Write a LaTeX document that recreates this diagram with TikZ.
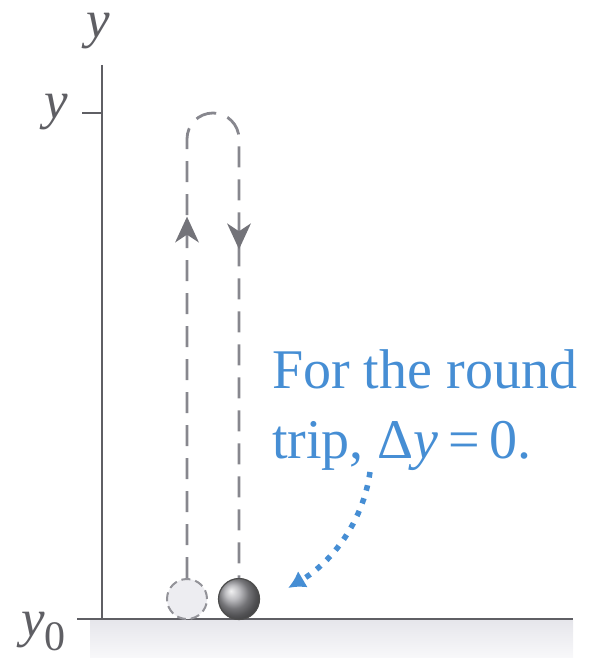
\documentclass[tikz,border=0pt]{standalone}
\usepackage{fontspec}
\setmainfont{Liberation Serif}
\usetikzlibrary{arrows.meta,decorations.markings,shadings,calc}
\definecolor{axisgray}{RGB}{95,95,100}
\definecolor{pathgray}{RGB}{135,135,142}
\definecolor{noteblue}{RGB}{70,142,212}
\definecolor{groundtop}{RGB}{230,230,235}
\definecolor{groundbot}{RGB}{248,248,250}
\tikzset{
  axisline/.style={line width=2.6pt, draw=axisgray},
  biglabel/.style={inner sep=0pt, text height=25pt, text depth=12pt, text=axisgray, font=\fontsize{53}{53}\selectfont},
  tripline/.style={draw=pathgray, line width=2.8pt, dash pattern=on 21pt off 12pt},
  triphead/.style={fill=pathgray!85!black},
  tripmarks/.style={postaction={decorate}, decoration={markings,
     mark=at position 0.363 with {\fill[triphead] (13pt,0pt) -- (-13pt,12pt) -- (-5pt,0pt) -- (-13pt,-12pt) -- cycle;},
     mark=at position 0.644 with {\fill[triphead] (13pt,0pt) -- (-13pt,12pt) -- (-5pt,0pt) -- (-13pt,-12pt) -- cycle;}}},
  ghostball/.style={circle, minimum size=40pt, inner sep=0pt, fill=groundtop!70, draw=pathgray!90, line width=2pt, dash pattern=on 9pt off 5pt},
  realball/.style={circle, minimum size=41pt, inner sep=0pt, shading=ball, ball color={rgb,255:red,165;green,165;blue,170}, draw=black!70, line width=1.2pt},
  note/.style={inner sep=0pt, anchor=base west, align=left, text=noteblue, font=\fontsize{56}{70}\selectfont},
  dotarrow/.style={draw=noteblue, line width=5.5pt, dash pattern=on 5.5pt off 8pt, -{Latex[length=17pt,width=19pt]}}
}
\begin{document}
\begin{tikzpicture}[x=1pt,y=-1pt]
\useasboundingbox (0,0) rectangle (593,658);
% ground
\fill[top color=groundtop, bottom color=groundbot] (90,620) rectangle (573,658);
\coordinate (gl) at (77,619);
\coordinate (gr) at (573,619);
\draw[axisline] (gl) -- (gr);
% axis
\coordinate (axtop) at (102,65);
\coordinate (axbot) at (102,619);
\draw[axisline] (axtop) -- (axbot);
\coordinate (tickl) at (82,113);
\coordinate (tickr) at (102,113);
\draw[axisline] (tickl) -- (tickr);
% labels
\node[biglabel, anchor=base] (ytop) at (98,38) {\textit{y}};
\node[biglabel, anchor=base] (ytick) at (56,118) {\textit{y}};
\node[biglabel, anchor=base west] (yzero) at (21,636) {\textit{y}\raisebox{-14pt}{\fontsize{42}{42}\selectfont 0}};
% balls
\node[ghostball] (ghost) at (187,599) {};
\node[realball] (ball) at (239,599) {};
% round trip path
\draw[tripline, tripmarks] (ghost.north) -- (187,139) arc[start angle=180, end angle=360, radius=26] -- (ball.north);
% note
\node[note] (txt) at (272,458) {For the round\\trip, Δ\textit{y}\,=\,0.};
\coordinate (dstart) at (370,472);
\coordinate (dend) at ($(ball.east)+(28,-11)$);
\draw[dotarrow] (dstart) .. controls (363,522) and (332,562) .. (dend);
\end{tikzpicture}
\end{document}
